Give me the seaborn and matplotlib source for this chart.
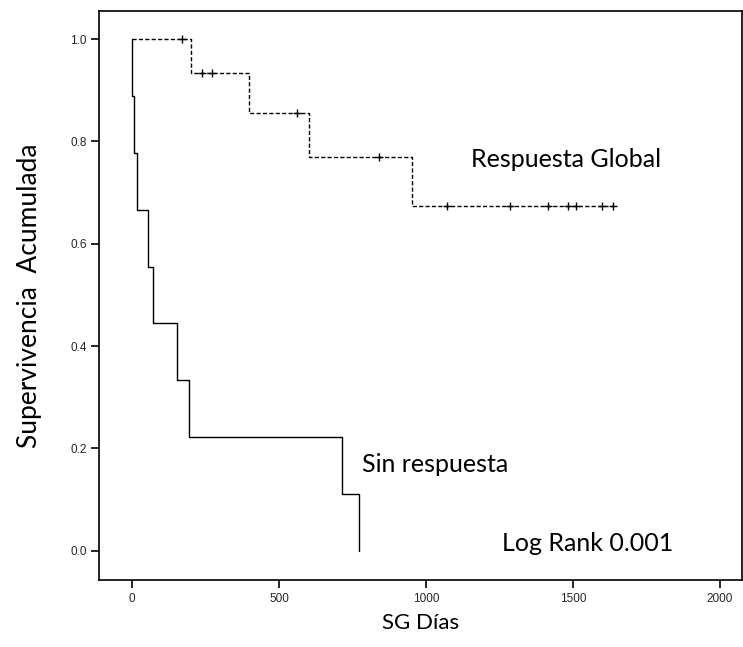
import numpy as np
import pandas as pd
import matplotlib
matplotlib.use("Agg")
import matplotlib.pyplot as plt
import seaborn as sns

# Data: follow-up in days, 1 = death, 0 = censored
sin_tiempo = [1, 6, 17, 54, 70, 152, 195, 716, 772]
sin_evento = [1, 1, 1, 1, 1, 1, 1, 1, 1]

glob_tiempo = [171, 200, 239, 272, 397, 562, 601, 839, 953,
               1071, 1286, 1414, 1484, 1512, 1600, 1637]
glob_evento = [0, 1, 0, 0, 1, 0, 1, 0, 1,
               0, 0, 0, 0, 0, 0, 0]

x_ticks = [0, 500, 1000, 1500, 2000]
y_ticks = [0.0, 0.2, 0.4, 0.6, 0.8, 1.0]


def kaplan_meier(tiempo, evento):
    t = np.array(tiempo, dtype=float)
    e = np.array(evento)
    order = np.argsort(t, kind="stable")
    t, e = t[order], e[order]
    n = len(t)
    s = 1.0
    steps_t, steps_s = [0.0], [1.0]
    cens_t, cens_s = [], []
    for i, (ti, ei) in enumerate(zip(t, e)):
        at_risk = n - i
        if ei == 1:
            s = s * (at_risk - 1) / at_risk
            steps_t.append(ti)
            steps_s.append(s)
        else:
            cens_t.append(ti)
            cens_s.append(s)
    if t[-1] > steps_t[-1]:
        steps_t.append(t[-1])
        steps_s.append(s)
    curva = pd.DataFrame({"dias": steps_t, "surv": steps_s})
    cens = pd.DataFrame({"dias": cens_t, "surv": cens_s})
    return curva, cens


sin_curva, sin_cens = kaplan_meier(sin_tiempo, sin_evento)
glob_curva, glob_cens = kaplan_meier(glob_tiempo, glob_evento)

sns.set_style("ticks")
plt.rcParams["font.family"] = ["Liberation Sans", "DejaVu Sans"]

fig = plt.figure(figsize=(7.43, 6.47), dpi=100)
ax = fig.add_axes([99 / 743, 1 - 580 / 647, 643 / 743, 569 / 647])

sns.lineplot(data=sin_curva, x="dias", y="surv", ax=ax, color="black",
             linewidth=1.0, drawstyle="steps-post", estimator=None, sort=False)
sns.lineplot(data=glob_curva, x="dias", y="surv", ax=ax, color="black",
             linewidth=1.0, drawstyle="steps-post", estimator=None, sort=False,
             linestyle=(0, (3, 1.6)))
sns.scatterplot(data=glob_cens, x="dias", y="surv", ax=ax, marker="+",
                color="black", s=38, linewidth=1.0, zorder=3)

ax.set_xlim(-112, 2075)
ax.set_ylim(-0.057, 1.055)
ax.set_xticks(x_ticks)
ax.set_yticks(y_ticks)
ax.set_xticklabels([str(v) for v in x_ticks])
ax.set_yticklabels([f"{v:.1f}" for v in y_ticks])
ax.tick_params(axis="both", direction="out", length=6, width=1.2,
               labelsize=8.5, color="black", pad=3)

for sp in ax.spines.values():
    sp.set_linewidth(1.2)
    sp.set_color("black")

lato = ["Lato", "DejaVu Sans"]
ax.set_xlabel("SG Días", labelpad=6, family=lato, fontsize=16, color="black")
ax.set_ylabel("Supervivencia  Acumulada", labelpad=20, family=lato,
              fontsize=19, color="black")

txt = dict(family=lato, fontsize=18, color="black")
ax.text(1153, 0.764, "Respuesta Global", va="center", ha="left", **txt)
ax.text(782, 0.168, "Sin respuesta", va="center", ha="left", **txt)
ax.text(1259, 0.015, "Log Rank 0.001", va="center", ha="left", **txt)

fig.savefig("out.png", dpi=100)
